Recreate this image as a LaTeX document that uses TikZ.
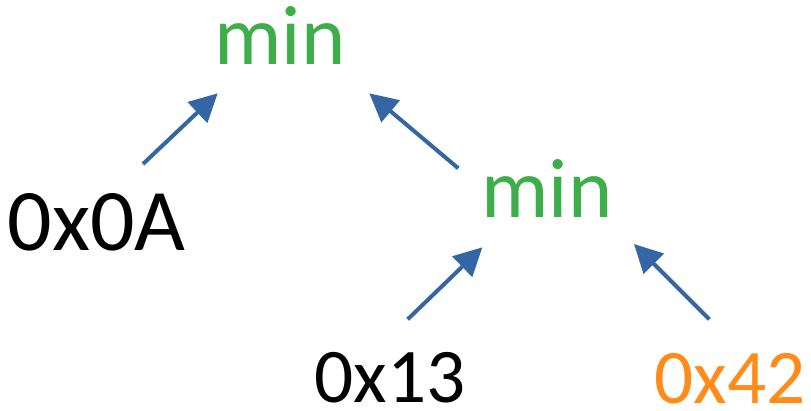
\documentclass[tikz,border=0pt]{standalone}
\usepackage{fontspec}
\setmainfont{Carlito}
\usepackage{tikz}
\usetikzlibrary{arrows.meta, positioning}
\definecolor{arrowblue}{RGB}{52,101,164}
\definecolor{opgreen}{RGB}{61,174,73}
\definecolor{valorange}{RGB}{255,140,26}
\tikzset{
 val/.style={font=\fontsize{50}{60}\selectfont, inner sep=0pt},
 leaf/.style={font=\fontsize{44}{52}\selectfont, inner sep=0pt},
 op/.style={font=\fontsize{48}{56}\selectfont, inner sep=0pt, text=opgreen},
 arr/.style={draw=arrowblue, line width=0.08cm, -{Triangle[length=0.56cm, width=0.56cm]}}
}

\begin{document}
\begin{tikzpicture}[x=0.02cm, y=-0.02cm]
 \useasboundingbox (0,0) rectangle (811,410);
 \node [op] (root) at (280,35) {min};
 \node [val] (leafa) at (96.5,222.5) {0x0A};
 \node [op] (inner) at (547,188.5) {min};
 \node [leaf] (leafb) at (390,377.5) {0x13};
 \node [leaf, text=valorange] (leafc) at (730,379) {0x42};
 \draw [arr] ([shift={(46.5,-58.5)}]leafa.center) -- ([shift={(-62.3,58.3)}]root.center);
 \draw [arr] ([shift={(-88.7,-20.2)}]inner.center) -- ([shift={(89.3,58.3)}]root.center);
 \draw [arr] ([shift={(17.7,-58.2)}]leafb.center) -- ([shift={(-64.7,58.8)}]inner.center);
 \draw [arr] ([shift={(-20.7,-59.7)}]leafc.center) -- ([shift={(87,55.5)}]inner.center);
\end{tikzpicture}
\end{document}
